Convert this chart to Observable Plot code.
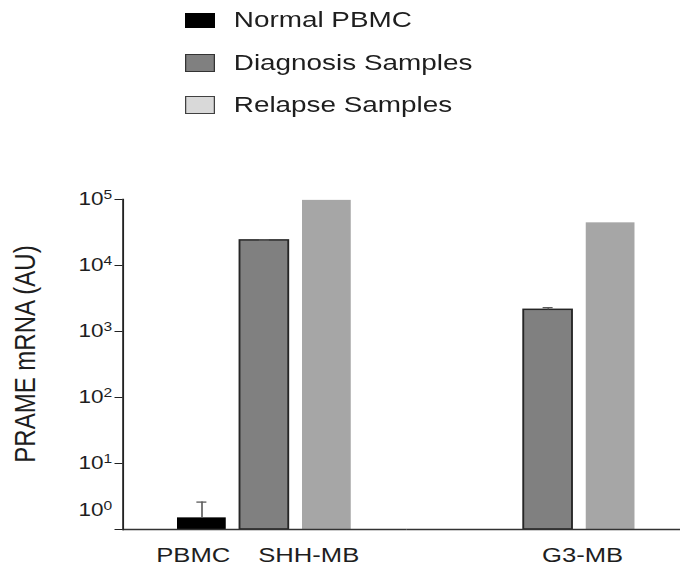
<!DOCTYPE html>
<html>
<head>
<meta charset="utf-8">
<script src="https://cdn.jsdelivr.net/npm/d3@7"></script>
<script src="https://cdn.jsdelivr.net/npm/@observablehq/plot@0.6"></script>
<style>
  html, body { margin: 0; padding: 0; background: #fff; overflow: hidden; width: 680px; height: 580px; }
  #stretch { width: 548.8px; transform: scaleX(1.25); transform-origin: 0 0;
             font-family: "Liberation Sans", Arial, sans-serif; }
  #legend { position: relative; height: 140px; }
  .sw { position: absolute; left: 148px; width: 24px; box-sizing: border-box; border: 1.5px solid #333; }
  .lt { position: absolute; font-size: 22.3px; color: #1e1e1e; line-height: 24px; white-space: nowrap; }
</style>
</head>
<body>
<div id="stretch">
  <div id="legend"></div>
  <div id="chart"></div>
</div>
<script>
// ---- data ----
const groups = ["PBMC", "SHH-MB", "G3-MB"];
const groupPanel = ["PBMC / SHH-MB", "PBMC / SHH-MB", "G3-MB"];
const panels = ["PBMC / SHH-MB", "G3-MB"];
const sampleTypes = ["Normal PBMC", "Diagnosis Samples", "Relapse Samples"];

const barGroup = ["PBMC", "SHH-MB", "SHH-MB", "G3-MB", "G3-MB"];
const barType  = ["Normal PBMC", "Diagnosis Samples", "Relapse Samples", "Diagnosis Samples", "Relapse Samples"];
const barValue = [1.5, 24000, 97000, 2130, 44300];
const barError = [1.1, 300, null, 170, null];

const yTicks = [1, 10, 100, 1000, 10000, 100000];
const yLabel = "PRAME mRNA (AU)";

const barColors = ["#000000", "#808080", "#a6a6a6"];
const legendColors = ["#000000", "#808080", "#d9d9d9"];
const legendBorders = ["#000000", "#333333", "#404040"];

// ---- tables ----
const bars = barValue.map((v, i) => ({
  group: barGroup[i],
  panel: groupPanel[groups.indexOf(barGroup[i])],
  type: barType[i],
  value: v,
  err: barError[i]
}));
const errs = bars.filter(d => d.err != null);
const diag = bars.filter(d => d.type === sampleTypes[1]);
const groupLabels = groups.map((g, i) => ({
  label: g, panel: groupPanel[i], type: i === 0 ? sampleTypes[0] : sampleTypes[1]
}));
const axisTitle = [{ panel: panels[0], label: yLabel }];

// ---- legend ----
const legend = document.getElementById("legend");
sampleTypes.forEach((t, i) => {
  const cy = 20 + i * 42.5;
  const sh = i === 0 ? 15 : 18;
  const sw = document.createElement("div");
  sw.className = "sw";
  sw.style.top = (cy - sh / 2) + "px";
  sw.style.height = sh + "px";
  sw.style.background = legendColors[i];
  sw.style.borderColor = legendBorders[i];
  legend.appendChild(sw);
  const tx = document.createElement("div");
  tx.className = "lt";
  tx.style.left = "187px";
  tx.style.top = (cy - 12) + "px";
  tx.textContent = t;
  legend.appendChild(tx);
});

// ---- chart ----
const fmt = d => "10^" + Math.round(Math.log10(d));

const chart = Plot.plot({
  width: 548.8,
  height: 440,
  marginTop: 59,
  marginBottom: 51,
  marginLeft: 98.4,
  marginRight: 0,
  style: { fontFamily: "Liberation Sans, Arial, sans-serif", background: "#fff", color: "#1e1e1e", overflow: "visible" },
  fx: { domain: panels, paddingInner: 0.0211, paddingOuter: 0, align: 0, axis: null, label: null },
  x: { domain: sampleTypes, paddingInner: 0.213, paddingOuter: 0.8, align: 0.53, axis: null },
  y: { type: "log", domain: [1, 1e5] },
  color: { domain: sampleTypes, range: barColors },
  marks: [
    Plot.barY(bars, { fx: "panel", x: "type", y1: 1, y2: "value", fill: "type" }),
    Plot.barY(diag, { fx: "panel", x: "type", y1: 1, y2: "value", fill: "none", stroke: "#262626", strokeWidth: 1.5 }),
    Plot.ruleX(errs, { fx: "panel", x: "type", y1: "value", y2: d => d.value + d.err, stroke: "#5a5a5a", strokeWidth: 1.3 }),
    Plot.tickY(errs, { fx: "panel", x: "type", y: d => d.value + d.err, stroke: "#5a5a5a", strokeWidth: 1.3, insetLeft: 15.5, insetRight: 15.5 }),
    Plot.ruleY([1], { stroke: "#333", strokeWidth: 1.5, insetRight: -5 }),
    Plot.frame({ anchor: "left", facetAnchor: "left", stroke: "#222", strokeWidth: 1.5 }),
    Plot.axisY({ ticks: yTicks, tickFormat: fmt, tickSize: 6.4, tickPadding: 2.4, fontSize: 18, label: null, stroke: "#222", fill: "#1e1e1e" }),
    Plot.text(axisTitle, { fx: "panel", text: "label", frameAnchor: "left", rotate: -90, dx: -78.4, dy: -10.5, lineAnchor: "middle", textAnchor: "middle", fontSize: 24, fill: "#1e1e1e" }),
    Plot.text(groupLabels.slice(0, 1), { fx: "panel", x: "type", text: "label", frameAnchor: "bottom", dy: 26, dx: -7, lineAnchor: "middle", textAnchor: "middle", fontSize: 20.5, fill: "#1e1e1e" }),
    Plot.text(groupLabels.slice(1), { fx: "panel", x: "type", text: "label", frameAnchor: "bottom", dy: 26, dx: -5, lineAnchor: "middle", textAnchor: "start", fontSize: 20.5, fill: "#1e1e1e" })
  ]
});

// tick labels: "10" with a superscript exponent
d3.select(chart).selectAll('g[aria-label="y-axis tick label"] text').each(function () {
  const s = d3.select(this);
  const [base, exp] = s.text().split("^");
  s.text(base);
  s.append("tspan").attr("dy", -6.7).attr("font-size", 12.5).text(exp);
  if (exp === "0") s.attr("transform", (s.attr("transform") || "") + " translate(0,-19)");
});

document.getElementById("chart").appendChild(chart);
</script>
</body>
</html>
